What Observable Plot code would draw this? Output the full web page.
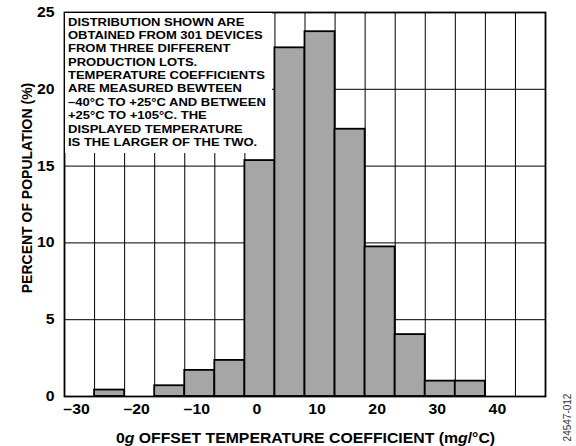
<!DOCTYPE html>
<html>
<head>
<meta charset="utf-8">
<script src="https://cdn.jsdelivr.net/npm/d3@7"></script>
<script src="https://cdn.jsdelivr.net/npm/@observablehq/plot@0.6"></script>
<style>
  html, body { margin: 0; padding: 0; background: #fff; }
  #chart { position: relative; width: 576px; height: 446px; font-family: "Liberation Sans", Arial, Helvetica, sans-serif; }
  #chart svg { display: block; }
  #note {
    position: absolute; left: 65px; top: 13px; width: 207px; height: 140px;
    background: #fff; box-sizing: border-box; padding: 2.6px 0 0 3.3px; overflow: hidden;
  }
  #note .txt {
    font-family: "Liberation Sans", Arial, Helvetica, sans-serif;
    font-weight: bold; font-size: 11.5px; line-height: 13.37px; color: #000;
    white-space: nowrap; transform: scaleX(1.13); transform-origin: 0 0;
  }
</style>
</head>
<body>
<div id="chart"></div>
<script>
// Histogram bins (bin centers, mg/°C) and percent of population
const binCenters = [-30, -25, -20, -15, -10, -5, 0, 5, 10, 15, 20, 25, 30, 35, 40, 45];
const percents   = [0, 0.42, 0, 0.7, 1.7, 2.35, 15.36, 22.7, 23.75, 17.4, 9.74, 4.03, 1.0, 1.0, 0, 0];
const binWidth = 5;

// Axis ticks and grid
const xTicks = [-30, -20, -10, 0, 10, 20, 30, 40];
const yTicks = [0, 5, 10, 15, 20, 25];
const xGrid = [-27.5, -22.5, -17.5, -12.5, -7.5, -2.5, 2.5, 7.5, 12.5, 17.5, 22.5, 27.5, 32.5, 37.5, 42.5];
const yGrid = [5, 10, 15, 20];

const xTitleParts = [["0", false], ["g", true], [" OFFSET TEMPERATURE COEFFICIENT (m", false], ["g", true], ["/°C)", false]];
const yTitle = "PERCENT OF POPULATION (%)";
const figCode = "24547-012";
const noteLines = [
  "DISTRIBUTION SHOWN ARE",
  "OBTAINED FROM 301 DEVICES",
  "FROM THREE DIFFERENT",
  "PRODUCTION LOTS.",
  "TEMPERATURE COEFFICIENTS",
  "ARE MEASURED BEWTEEN",
  "–40°C TO +25°C AND BETWEEN",
  "+25°C TO +105°C. THE",
  "DISPLAYED TEMPERATURE",
  "IS THE LARGER OF THE TWO."
];

const data = binCenters.map((b, i) => ({bin: b, pct: percents[i]})).filter(d => d.pct > 0);
const fmt = d => d < 0 ? "–" + Math.abs(d) : String(d);
const FONT = "Liberation Sans, Arial, Helvetica, sans-serif";

const svg = Plot.plot({
  width: 576,
  height: 446,
  marginLeft: 64,
  marginRight: 31,
  marginTop: 12,
  marginBottom: 50,
  style: {fontFamily: FONT, color: "#000", background: "#fff"},
  x: {domain: [-32.5, 47.5]},
  y: {domain: [0, 25]},
  marks: [
    Plot.ruleX(xGrid, {stroke: "#000", strokeWidth: 1}),
    Plot.ruleY(yGrid, {stroke: "#000", strokeWidth: 1}),
    Plot.rectY(data, {
      x1: d => d.bin - binWidth / 2,
      x2: d => d.bin + binWidth / 2,
      y: "pct",
      fill: "#a6a6a6",
      stroke: "#000",
      strokeWidth: 1.8
    }),
    Plot.frame({stroke: "#000", strokeWidth: 1.8}),
    Plot.axisX(xTicks, {tickSize: 0, tickPadding: 8, dx: -3, fontWeight: "bold", fontSize: 14, tickFormat: fmt, label: null}),
    Plot.axisY(yTicks, {tickSize: 0, tickPadding: 10, fontWeight: "bold", fontSize: 14, tickFormat: fmt, label: null})
  ]
});

// widen horizontal tick labels to match the reference's proportions
d3.select(svg).selectAll('g[aria-label="x-axis tick label"] text, g[aria-label="y-axis tick label"] text').each(function() {
  const t = this.getAttribute("transform");
  if (t) {
    this.setAttribute("transform", t + " scale(1.13,1)");
  } else {
    const x = +this.getAttribute("x") || 0, y = +this.getAttribute("y") || 0;
    this.removeAttribute("x"); this.removeAttribute("y");
    this.setAttribute("transform", `translate(${x},${y}) scale(1.13,1)`);
  }
});

const s = d3.select(svg);
// x-axis title with italic g
const xt = s.append("text")
  .attr("transform", "translate(305.5,443) scale(1.13,1)")
  .attr("text-anchor", "middle")
  .attr("font-family", FONT)
  .attr("font-weight", "bold")
  .attr("font-size", 14)
  .attr("fill", "#000");
xTitleParts.forEach(([t, it]) => {
  const ts = xt.append("tspan").text(t);
  if (it) ts.attr("font-style", "italic");
});
// y-axis title
s.append("text")
  .attr("transform", "translate(31.5,188) rotate(-90)")
  .attr("text-anchor", "middle")
  .attr("font-family", FONT)
  .attr("font-weight", "bold")
  .attr("font-size", 14)
  .attr("fill", "#000")
  .text(yTitle);
// figure code
s.append("text")
  .attr("transform", "translate(570.5,417.5) rotate(-90)")
  .attr("text-anchor", "middle")
  .attr("font-family", FONT)
  .attr("font-size", 10)
  .attr("fill", "#333")
  .text(figCode);

const chart = document.getElementById("chart");
chart.appendChild(svg);
const note = document.createElement("div");
note.id = "note";
const inner = document.createElement("div");
inner.className = "txt";
noteLines.forEach((l, i) => {
  if (i) inner.appendChild(document.createElement("br"));
  inner.appendChild(document.createTextNode(l));
});
note.appendChild(inner);
chart.appendChild(note);
</script>
</body>
</html>
